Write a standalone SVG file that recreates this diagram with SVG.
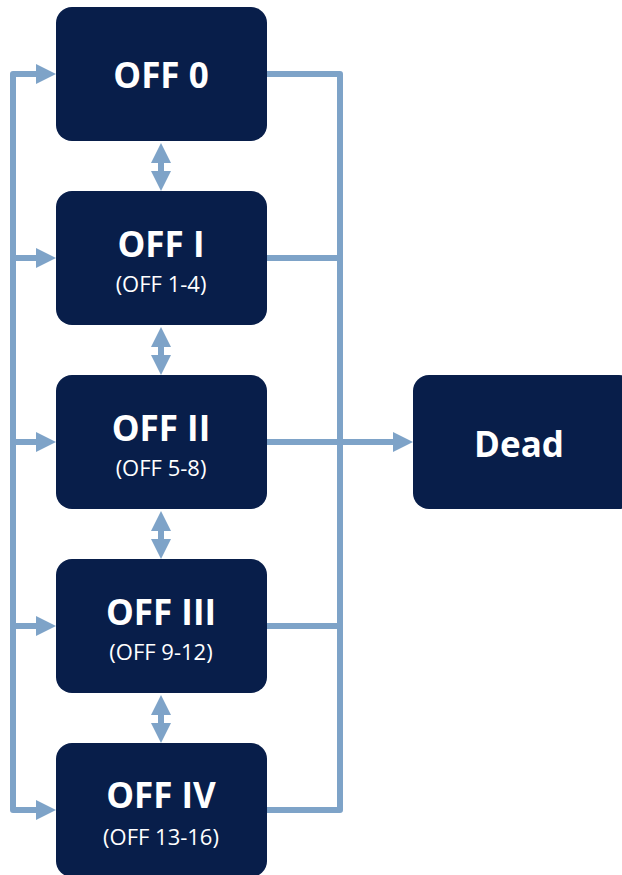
<svg xmlns="http://www.w3.org/2000/svg" width="622" height="875" viewBox="0 0 622 875">
<style>
.box{fill:#081e4a}
.t{font-family:"Open Sans","Liberation Sans",sans-serif;font-weight:700;font-size:35px;fill:#fff;text-anchor:middle}
.s{font-family:"Open Sans","Liberation Sans",sans-serif;font-size:22px;fill:#fff;text-anchor:middle}
.c{fill:none;stroke:#7ea3c8;stroke-width:6;stroke-linejoin:round}
</style>
<defs>
<marker id="ah" markerUnits="userSpaceOnUse" viewBox="0 0 20 20" refX="0" refY="10" markerWidth="20" markerHeight="20" orient="auto-start-reverse">
<path d="M0,0 L20,10 L0,20 Z" fill="#7ea3c8"/>
</marker>
</defs>
<rect x="0" y="0" width="622" height="875" fill="#fff"/>
<g id="connectors">
<path class="c" d="M36,74 H13 V810 H36" marker-start="url(#ah)" marker-end="url(#ah)"/>
<path class="c" d="M13,258 H36" marker-end="url(#ah)"/>
<path class="c" d="M13,442 H36" marker-end="url(#ah)"/>
<path class="c" d="M13,626 H36" marker-end="url(#ah)"/>
<path class="c" d="M267,74 H340 V810 H267"/>
<path class="c" d="M267,258 H340"/>
<path class="c" d="M267,626 H340"/>
<path class="c" d="M267,442 H393" marker-end="url(#ah)"/>
<path class="c" d="M161,163 V171" marker-start="url(#ah)" marker-end="url(#ah)"/>
<path class="c" d="M161,347 V355" marker-start="url(#ah)" marker-end="url(#ah)"/>
<path class="c" d="M161,531 V539" marker-start="url(#ah)" marker-end="url(#ah)"/>
<path class="c" d="M161,715 V723" marker-start="url(#ah)" marker-end="url(#ah)"/>
</g>
<g id="off0"><rect class="box" x="56" y="7" width="211" height="134" rx="16"/><text class="t" x="161" y="88">OFF 0</text></g>
<g id="off1"><rect class="box" x="56" y="191" width="211" height="134" rx="16"/><text class="t" x="161" y="257">OFF I</text><text class="s" x="161" y="292">(OFF 1-4)</text></g>
<g id="off2"><rect class="box" x="56" y="375" width="211" height="134" rx="16"/><text class="t" x="161" y="441">OFF II</text><text class="s" x="161" y="476">(OFF 5-8)</text></g>
<g id="off3"><rect class="box" x="56" y="559" width="211" height="134" rx="16"/><text class="t" x="161" y="625">OFF III</text><text class="s" x="161" y="660">(OFF 9-12)</text></g>
<g id="off4"><rect class="box" x="56" y="743" width="211" height="134" rx="16"/><text class="t" x="161" y="808">OFF IV</text><text class="s" x="161" y="845">(OFF 13-16)</text></g>
<g id="dead"><rect class="box" x="413" y="375" width="222" height="134" rx="16"/><text class="t" x="519" y="457">Dead</text></g>
</svg>
